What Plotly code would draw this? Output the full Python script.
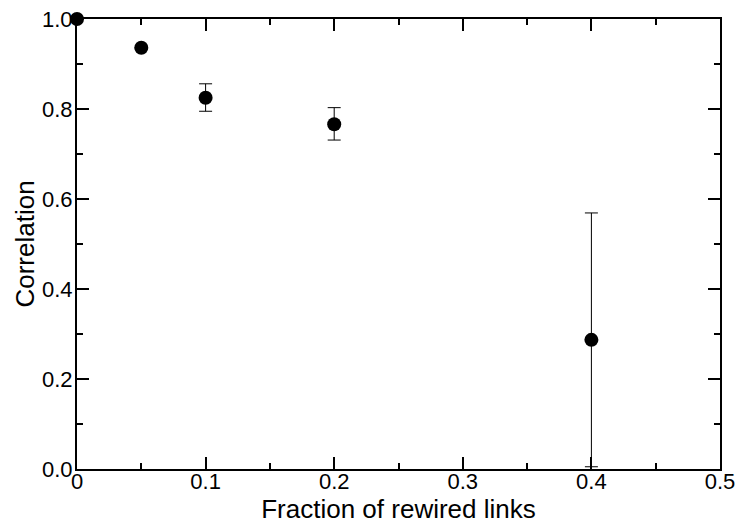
import plotly.graph_objects as go

fraction = [0.0, 0.05, 0.1, 0.2, 0.4]
correlation = [1.0, 0.936, 0.825, 0.766, 0.287]
err_plus = [0.0, 0.0, 0.031, 0.037, 0.282]
err_minus = [0.0, 0.0, 0.030, 0.035, 0.282]

x_ticks = [0, 0.1, 0.2, 0.3, 0.4, 0.5]
x_ticktext = ["0", "0.1", "0.2", "0.3", "0.4", "0.5"]
y_ticks = [0.0, 0.2, 0.4, 0.6, 0.8, 1.0]
y_ticktext = ["0.0", "0.2", "0.4", "0.6", "0.8", "1.0"]

font = "Liberation Sans, Arial, Helvetica, sans-serif"

fig = go.Figure()
fig.add_trace(go.Scatter(
    x=fraction, y=correlation, mode="markers",
    marker=dict(color="black", size=14),
    error_y=dict(type="data", symmetric=False, array=err_plus, arrayminus=err_minus,
                 color="black", thickness=1, width=6.5),
    cliponaxis=False, showlegend=False,
))

axis_common = dict(
    showline=True, linecolor="black", linewidth=2, mirror="allticks",
    ticks="inside", ticklen=12, tickwidth=1.5, tickcolor="black",
    showgrid=False, zeroline=False, automargin=False,
    tickfont=dict(family=font, size=22, color="black"),
)

fig.update_xaxes(
    range=[0, 0.5], tickvals=x_ticks, ticktext=x_ticktext,
    minor=dict(ticks="inside", ticklen=6, tickwidth=1.5, tickcolor="black", dtick=0.05),
    title=dict(text="Fraction of rewired links", font=dict(family=font, size=26, color="black"), standoff=0),
    ticklabelstandoff=-8,
    **axis_common,
)
fig.update_yaxes(
    range=[0, 1.0], tickvals=y_ticks, ticktext=y_ticktext,
    minor=dict(ticks="inside", ticklen=6, tickwidth=1.5, tickcolor="black", dtick=0.1),
    title=dict(text="Correlation", font=dict(family=font, size=26, color="black"), standoff=0),
    ticklabelstandoff=-2,
    **axis_common,
)

fig.update_layout(
    width=738, height=525,
    margin=dict(l=77, r=18, t=19, b=56, pad=0),
    paper_bgcolor="white", plot_bgcolor="white",
)

fig.write_html("out.html")
